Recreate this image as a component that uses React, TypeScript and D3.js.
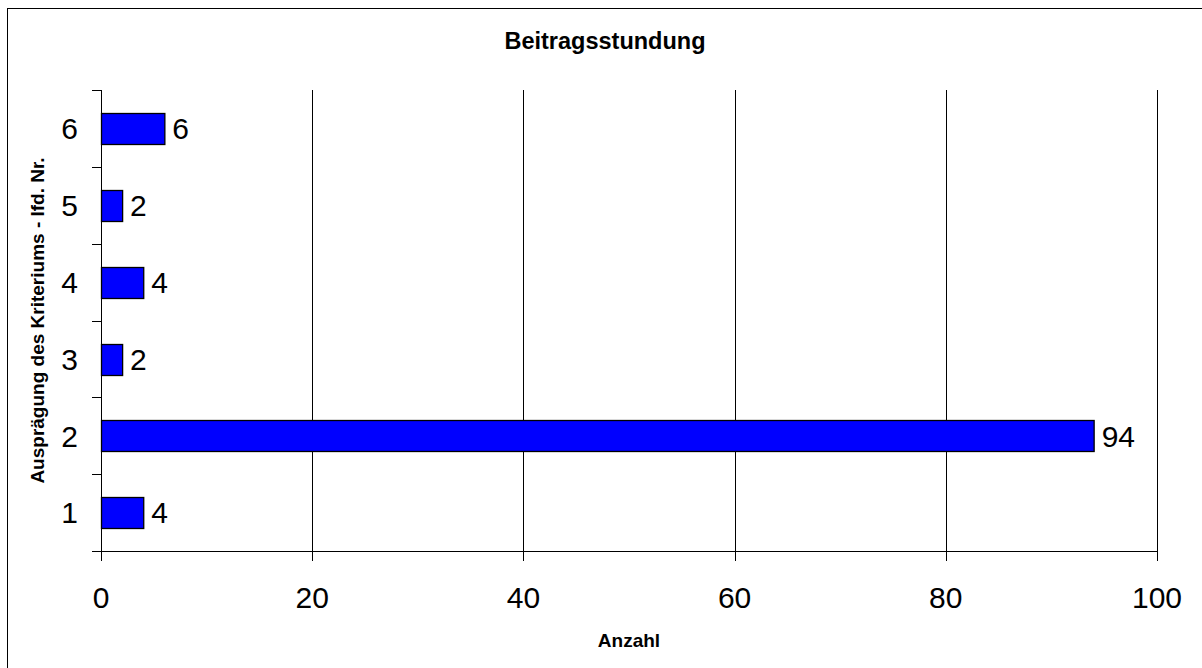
import React, { useEffect, useRef } from 'react';
import * as d3 from 'd3';

const categories = ['1', '2', '3', '4', '5', '6'];
const values = [4, 94, 2, 4, 2, 6];
const xTicks = [0, 20, 40, 60, 80, 100];

const title = 'Beitragsstundung';
const xLabel = 'Anzahl';
const yLabel = 'Ausprägung des Kriteriums - lfd. Nr.';

const App: React.FC = () => {
  const chartRef = useRef<SVGSVGElement | null>(null);

  useEffect(() => {
    if (!chartRef.current) return;
    d3.select(chartRef.current).selectAll('*').remove();

    const svgWidth = 1202;
    const svgHeight = 668;
    const margin = { top: 90, right: 45, bottom: 117, left: 101 };
    const width = svgWidth - margin.left - margin.right;
    const height = svgHeight - margin.top - margin.bottom;
    const font = 'Liberation Sans, Arial, sans-serif';

    const root = d3.select(chartRef.current)
      .attr('width', svgWidth)
      .attr('height', svgHeight);

    // Outer frame (right and bottom edges lie outside the picture)
    root.append('rect')
      .attr('x', 7.5)
      .attr('y', 8.5)
      .attr('width', 1210)
      .attr('height', 680)
      .attr('fill', '#fff')
      .attr('stroke', '#000')
      .attr('stroke-width', 1);

    const svg = root.append('g')
      .attr('transform', `translate(${margin.left},${margin.top})`);

    const xScale = d3.scaleLinear().domain([0, 100]).range([0, width]);
    // category 1 at the bottom
    const yScale = d3.scaleBand<string>()
      .domain([...categories].reverse())
      .range([0, height])
      .paddingInner(0.6)
      .paddingOuter(0.3);

    // Vertical grid lines
    svg.append('g')
      .selectAll('line')
      .data(xTicks.filter(t => t > 0))
      .enter()
      .append('line')
      .attr('x1', d => Math.round(xScale(d)) + 0.5)
      .attr('x2', d => Math.round(xScale(d)) + 0.5)
      .attr('y1', 0)
      .attr('y2', height)
      .attr('stroke', '#000')
      .attr('stroke-width', 1);

    // X axis
    const xAxis = svg.append('g')
      .attr('transform', `translate(0,${height})`);
    xAxis.append('line')
      .attr('x1', 0)
      .attr('x2', width)
      .attr('y1', 0.5)
      .attr('y2', 0.5)
      .attr('stroke', '#000');
    xAxis.selectAll('.tick')
      .data(xTicks)
      .enter()
      .append('line')
      .attr('x1', d => Math.round(xScale(d)) + 0.5)
      .attr('x2', d => Math.round(xScale(d)) + 0.5)
      .attr('y1', 0)
      .attr('y2', 10)
      .attr('stroke', '#000');
    xAxis.selectAll('.tick-label')
      .data(xTicks)
      .enter()
      .append('text')
      .attr('x', d => xScale(d))
      .attr('y', 57)
      .attr('text-anchor', 'middle')
      .style('font-family', font)
      .style('font-size', '30px')
      .text(d => d);

    // Y axis
    const step = height / categories.length;
    const yAxis = svg.append('g');
    yAxis.append('line')
      .attr('x1', 0.5)
      .attr('x2', 0.5)
      .attr('y1', 0)
      .attr('y2', height)
      .attr('stroke', '#000');
    yAxis.selectAll('.tick')
      .data(d3.range(categories.length + 1))
      .enter()
      .append('line')
      .attr('x1', -9)
      .attr('x2', 0)
      .attr('y1', i => Math.round(i * step) + 0.5)
      .attr('y2', i => Math.round(i * step) + 0.5)
      .attr('stroke', '#000');
    yAxis.selectAll('.tick-label')
      .data(categories)
      .enter()
      .append('text')
      .attr('x', -23)
      .attr('y', d => (yScale(d) || 0) + yScale.bandwidth() / 2)
      .attr('dy', '0.36em')
      .attr('text-anchor', 'end')
      .style('font-family', font)
      .style('font-size', '30px')
      .text(d => d);

    // Bars
    svg.selectAll('.bar')
      .data(categories)
      .enter()
      .append('rect')
      .attr('x', 0.5)
      .attr('y', d => Math.round(yScale(d) || 0) + 0.5)
      .attr('width', (d, i) => xScale(values[i]))
      .attr('height', Math.round(yScale.bandwidth()))
      .attr('fill', '#0000ff')
      .attr('stroke', '#000')
      .attr('stroke-width', 1.3);

    // Value labels
    svg.selectAll('.value')
      .data(categories)
      .enter()
      .append('text')
      .attr('x', (d, i) => xScale(values[i]) + 8)
      .attr('y', d => (yScale(d) || 0) + yScale.bandwidth() / 2)
      .attr('dy', '0.36em')
      .style('font-family', font)
      .style('font-size', '30px')
      .text((d, i) => values[i]);

    // Title
    root.append('text')
      .attr('x', 605)
      .attr('y', 49)
      .attr('text-anchor', 'middle')
      .style('font-family', font)
      .style('font-size', '23.5px')
      .style('font-weight', 'bold')
      .text(title);

    // Axis titles
    root.append('text')
      .attr('x', margin.left + width / 2)
      .attr('y', 647)
      .attr('text-anchor', 'middle')
      .style('font-family', font)
      .style('font-size', '19px')
      .style('font-weight', 'bold')
      .text(xLabel);

    root.append('text')
      .attr('transform', `translate(44,${margin.top + height / 2}) rotate(-90)`)
      .attr('text-anchor', 'middle')
      .style('font-family', font)
      .style('font-size', '19px')
      .style('font-weight', 'bold')
      .text(yLabel);
  }, []);

  return (
    <svg ref={chartRef} style={{ position: 'absolute', left: 0, top: 0, display: 'block' }}></svg>
  );
};

export default App;
